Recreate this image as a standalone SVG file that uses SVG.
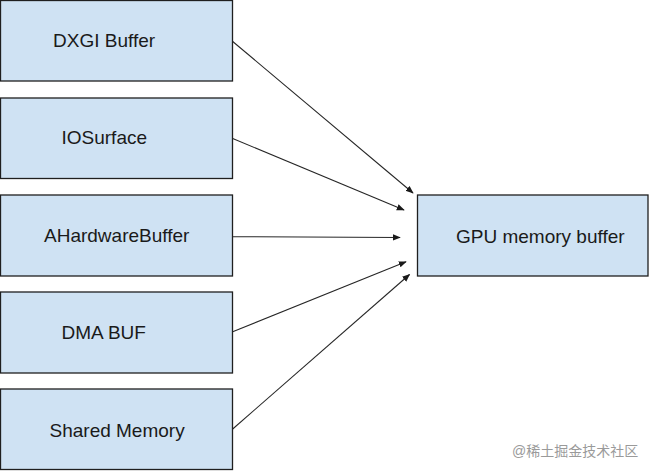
<svg xmlns="http://www.w3.org/2000/svg" width="650" height="471" viewBox="0 0 650 471">
<defs>
<style>
.box{fill:#cfe2f3;stroke:#1f1f1f;stroke-width:1.3}
.lbl{font-family:"Liberation Sans",Arial,sans-serif;font-size:19px;fill:#1a1a1a}
.edge{stroke:#262626;stroke-width:1.1;fill:none;marker-end:url(#ah)}
.wm{font-family:"Liberation Sans","Noto Sans CJK SC",sans-serif;font-size:14px;fill:#9a9a9a}
</style>
<marker id="ah" viewBox="0 0 10 10" refX="9" refY="5" markerWidth="8" markerHeight="8" markerUnits="userSpaceOnUse" orient="auto">
<path d="M0,1 L10,5 L0,9 z" fill="#1a1a1a"/>
</marker>
</defs>
<rect width="650" height="471" fill="#ffffff"/>
<g id="dxgi"><rect class="box" x="0.5" y="0.5" width="232" height="80.5"/><text class="lbl" x="53" y="47">DXGI Buffer</text></g>
<g id="iosurface"><rect class="box" x="0.5" y="98" width="232" height="80.5"/><text class="lbl" x="61.5" y="144">IOSurface</text></g>
<g id="ahardwarebuffer"><rect class="box" x="0.5" y="195" width="232" height="81"/><text class="lbl" x="44" y="242">AHardwareBuffer</text></g>
<g id="dmabuf"><rect class="box" x="0.5" y="292" width="232" height="81"/><text class="lbl" x="61.5" y="338.5">DMA BUF</text></g>
<g id="sharedmemory"><rect class="box" x="0.5" y="389" width="232" height="80.5"/><text class="lbl" x="49.5" y="437">Shared Memory</text></g>
<g id="gpubuffer"><rect class="box" x="417.5" y="195" width="230.5" height="81"/><text class="lbl" x="456" y="243">GPU memory buffer</text></g>
<g id="connectors">
<line class="edge" x1="232.7" y1="41.5" x2="413" y2="193"/>
<line class="edge" x1="232.7" y1="138.5" x2="404" y2="210"/>
<line class="edge" x1="232.7" y1="236.7" x2="400" y2="237.5"/>
<line class="edge" x1="232.7" y1="331.7" x2="406" y2="261.7"/>
<line class="edge" x1="232.7" y1="429" x2="409.5" y2="274.5"/>
</g>
<text class="wm" x="512" y="456">@稀土掘金技术社区</text>
</svg>
